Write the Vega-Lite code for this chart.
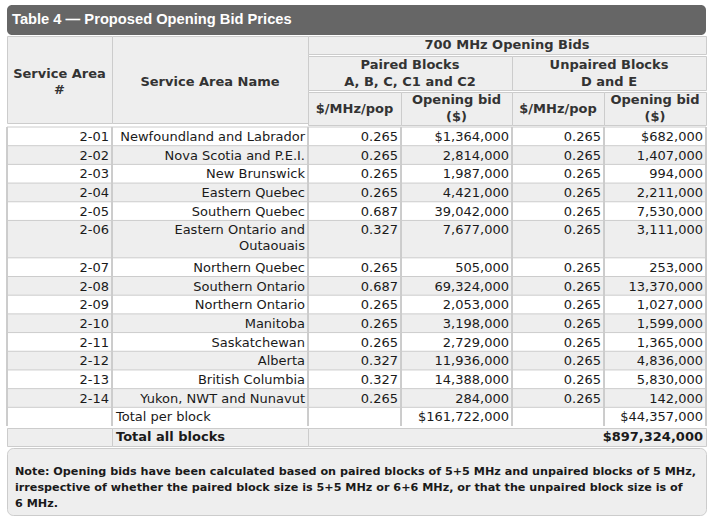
{
  "$schema": "https://vega.github.io/schema/vega-lite/v6.json",
  "padding": {"left": 6, "top": 5, "right": 4, "bottom": 4},
  "background": "white",
  "config": {
    "concat": {"spacing": 0},
    "view": {"stroke": null},
    "text": {"font": "DejaVu Sans", "fontSize": 13, "fill": "#1a1a1a"}
  },
  "datasets": {
    "rows": [
      {"sa": "2-01", "name": "Newfoundland and Labrador", "p_rate": 0.265, "p_bid": 1364000, "u_rate": 0.265, "u_bid": 682000},
      {"sa": "2-02", "name": "Nova Scotia and P.E.I.", "p_rate": 0.265, "p_bid": 2814000, "u_rate": 0.265, "u_bid": 1407000},
      {"sa": "2-03", "name": "New Brunswick", "p_rate": 0.265, "p_bid": 1987000, "u_rate": 0.265, "u_bid": 994000},
      {"sa": "2-04", "name": "Eastern Quebec", "p_rate": 0.265, "p_bid": 4421000, "u_rate": 0.265, "u_bid": 2211000},
      {"sa": "2-05", "name": "Southern Quebec", "p_rate": 0.687, "p_bid": 39042000, "u_rate": 0.265, "u_bid": 7530000},
      {"sa": "2-06", "name": "Eastern Ontario and\nOutaouais", "p_rate": 0.327, "p_bid": 7677000, "u_rate": 0.265, "u_bid": 3111000},
      {"sa": "2-07", "name": "Northern Quebec", "p_rate": 0.265, "p_bid": 505000, "u_rate": 0.265, "u_bid": 253000},
      {"sa": "2-08", "name": "Southern Ontario", "p_rate": 0.687, "p_bid": 69324000, "u_rate": 0.265, "u_bid": 13370000},
      {"sa": "2-09", "name": "Northern Ontario", "p_rate": 0.265, "p_bid": 2053000, "u_rate": 0.265, "u_bid": 1027000},
      {"sa": "2-10", "name": "Manitoba", "p_rate": 0.265, "p_bid": 3198000, "u_rate": 0.265, "u_bid": 1599000},
      {"sa": "2-11", "name": "Saskatchewan", "p_rate": 0.265, "p_bid": 2729000, "u_rate": 0.265, "u_bid": 1365000},
      {"sa": "2-12", "name": "Alberta", "p_rate": 0.327, "p_bid": 11936000, "u_rate": 0.265, "u_bid": 4836000},
      {"sa": "2-13", "name": "British Columbia", "p_rate": 0.327, "p_bid": 14388000, "u_rate": 0.265, "u_bid": 5830000},
      {"sa": "2-14", "name": "Yukon, NWT and Nunavut", "p_rate": 0.265, "p_bid": 284000, "u_rate": 0.265, "u_bid": 142000},
      {"sa": "", "name": "Total per block", "p_rate": null, "p_bid": 161722000, "u_rate": null, "u_bid": 44357000}
    ],
    "grand": [{"label": "Total all blocks", "total": 897324000}],
    "headers": [
      {"cell": "A", "label": "Service Area\n#"},
      {"cell": "B", "label": "Service Area Name"},
      {"cell": "700", "label": "700 MHz Opening Bids"},
      {"cell": "P", "label": "Paired Blocks\nA, B, C, C1 and C2"},
      {"cell": "U", "label": "Unpaired Blocks\nD and E"},
      {"cell": "C", "label": "$/MHz/pop"},
      {"cell": "D", "label": "Opening bid\n($)"},
      {"cell": "E", "label": "$/MHz/pop"},
      {"cell": "F", "label": "Opening bid\n($)"}
    ],
    "texts": [
      {"kind": "title", "t": "Table 4 — Proposed Opening Bid Prices"},
      {"kind": "note", "t": "Note: Opening bids have been calculated based on paired blocks of 5+5 MHz and unpaired blocks of 5 MHz,\nirrespective of whether the paired block size is 5+5 MHz or 6+6 MHz, or that the unpaired block size is of\n6 MHz."}
    ]
  },
  "spacing": 0,
  "vconcat": [
    {
      "width": 699, "height": 30,
      "view": {"fill": "#666666", "stroke": null, "cornerRadius": 5},
      "data": {"name": "texts"},
      "transform": [{"filter": "datum.kind == 'title'"}],
      "layer": [
        {"mark": {"type": "rule", "opacity": 0}, "encoding": {"x": {"datum": "c", "type": "nominal", "scale": {"domain": ["c"], "paddingInner": 0, "paddingOuter": 0}, "axis": null, "bandPosition": 0}}},
        {"mark": {"type": "text", "align": "left", "baseline": "middle", "dx": 5, "font": "Liberation Sans", "fontWeight": "bold", "fontSize": 14.7, "fill": "#ffffff"},
         "encoding": {"x": {"datum": "c", "type": "nominal", "bandPosition": 0}, "text": {"field": "t"}}}
      ]
    },
    {
      "spacing": 0, "bounds": "flush",
      "hconcat": [
        {
          "width": 105, "height": 87,
          "view": {"fill": "#eeeeee", "stroke": "#cccccc"},
          "data": {"name": "headers"},
          "transform": [{"filter": "datum.cell == 'A'"}],
          "mark": {"type": "text", "fontWeight": "bold", "lineBreak": "\n", "lineHeight": 16, "dy": -6, "fill": "#333333"},
          "encoding": {"text": {"field": "label"}}
        },
        {
          "width": 196, "height": 87,
          "view": {"fill": "#eeeeee", "stroke": "#cccccc"},
          "data": {"name": "headers"},
          "transform": [{"filter": "datum.cell == 'B'"}],
          "mark": {"type": "text", "fontWeight": "bold", "dy": 2, "fill": "#333333"},
          "encoding": {"text": {"field": "label"}}
        },
        {
          "spacing": 0,
          "vconcat": [
            {
              "width": 398, "height": 18,
              "view": {"fill": "#eeeeee", "stroke": "#cccccc"},
              "data": {"name": "headers"},
              "transform": [{"filter": "datum.cell == '700'"}],
              "mark": {"type": "text", "fontWeight": "bold", "fill": "#333333"},
              "encoding": {"text": {"field": "label"}}
            },
            {
              "spacing": 0, "bounds": "flush",
              "hconcat": [
                {
                  "width": 204, "height": 34,
                  "view": {"fill": "#eeeeee", "stroke": "#cccccc"},
                  "data": {"name": "headers"},
                  "transform": [{"filter": "datum.cell == 'P'"}],
                  "mark": {"type": "text", "fontWeight": "bold", "lineBreak": "\n", "lineHeight": 17, "dy": -8.5, "fill": "#333333"},
                  "encoding": {"text": {"field": "label"}}
                },
                {
                  "width": 194, "height": 34,
                  "view": {"fill": "#eeeeee", "stroke": "#cccccc"},
                  "data": {"name": "headers"},
                  "transform": [{"filter": "datum.cell == 'U'"}],
                  "mark": {"type": "text", "fontWeight": "bold", "lineBreak": "\n", "lineHeight": 17, "dy": -8.5, "fill": "#333333"},
                  "encoding": {"text": {"field": "label"}}
                }
              ]
            },
            {
              "spacing": 0, "bounds": "flush",
              "hconcat": [
                {
                  "width": 93, "height": 33,
                  "view": {"fill": "#eeeeee", "stroke": "#cccccc"},
                  "data": {"name": "headers"},
                  "transform": [{"filter": "datum.cell == 'C'"}],
                  "mark": {"type": "text", "fontWeight": "bold", "fill": "#333333"},
                  "encoding": {"text": {"field": "label"}}
                },
                {
                  "width": 111, "height": 33,
                  "view": {"fill": "#eeeeee", "stroke": "#cccccc"},
                  "data": {"name": "headers"},
                  "transform": [{"filter": "datum.cell == 'D'"}],
                  "mark": {"type": "text", "fontWeight": "bold", "lineBreak": "\n", "lineHeight": 17, "dy": -8.5, "fill": "#333333"},
                  "encoding": {"text": {"field": "label"}}
                },
                {
                  "width": 92, "height": 33,
                  "view": {"fill": "#eeeeee", "stroke": "#cccccc"},
                  "data": {"name": "headers"},
                  "transform": [{"filter": "datum.cell == 'E'"}],
                  "mark": {"type": "text", "fontWeight": "bold", "fill": "#333333"},
                  "encoding": {"text": {"field": "label"}}
                },
                {
                  "width": 102, "height": 33,
                  "view": {"fill": "#eeeeee", "stroke": "#cccccc"},
                  "data": {"name": "headers"},
                  "transform": [{"filter": "datum.cell == 'F'"}],
                  "mark": {"type": "text", "fontWeight": "bold", "lineBreak": "\n", "lineHeight": 17, "dy": -8.5, "fill": "#333333"},
                  "encoding": {"text": {"field": "label"}}
                }
              ]
            }
          ]
        }
      ]
    },
    {
      "spacing": 0, "bounds": "flush",
      "hconcat": [
        {
          "width": 105, "height": 299,
          "view": {"fill": "#eeeeee", "stroke": null},
          "data": {"name": "rows"},
          "transform": [{"window": [{"op": "row_number", "as": "i"}]}],
          "layer": [
            {"transform": [{"filter": "datum.i % 2 == 1"}], "mark": {"type": "rect", "fill": "#ffffff"},
             "encoding": {
               "x": {"datum": "c", "type": "nominal", "scale": {"domain": ["c"], "paddingInner": 0, "paddingOuter": 0}, "axis": null},
               "y": {"field": "sa", "type": "nominal", "sort": null, "scale": {"domain": ["2-01","2-02","2-03","2-04","2-05","2-06","2-06+","2-07","2-08","2-09","2-10","2-11","2-12","2-13","2-14",""], "paddingInner": 0, "paddingOuter": 0}, "axis": null}}},
            {"mark": {"type": "rule", "stroke": "#cccccc"}, "encoding": {"y": {"field": "sa", "type": "nominal", "bandPosition": 0}}},
            {"mark": {"type": "rule", "stroke": "#cccccc"}, "encoding": {"x": {"datum": "c", "type": "nominal", "bandPosition": 0}}},
            {"mark": {"type": "text", "align": "right", "baseline": "top", "dx": -3, "dy": 4},
             "encoding": {"x": {"datum": "c", "type": "nominal", "bandPosition": 1}, "y": {"field": "sa", "type": "nominal", "bandPosition": 0}, "text": {"field": "sa"}}}
          ]
        },
        {
          "width": 196, "height": 299,
          "view": {"fill": "#eeeeee", "stroke": null},
          "data": {"name": "rows"},
          "transform": [{"window": [{"op": "row_number", "as": "i"}]}],
          "layer": [
            {"transform": [{"filter": "datum.i % 2 == 1"}], "mark": {"type": "rect", "fill": "#ffffff"},
             "encoding": {
               "x": {"datum": "c", "type": "nominal", "scale": {"domain": ["c"], "paddingInner": 0, "paddingOuter": 0}, "axis": null},
               "y": {"field": "sa", "type": "nominal", "sort": null, "scale": {"domain": ["2-01","2-02","2-03","2-04","2-05","2-06","2-06+","2-07","2-08","2-09","2-10","2-11","2-12","2-13","2-14",""], "paddingInner": 0, "paddingOuter": 0}, "axis": null}}},
            {"mark": {"type": "rule", "stroke": "#cccccc"}, "encoding": {"y": {"field": "sa", "type": "nominal", "bandPosition": 0}}},
            {"mark": {"type": "rule", "stroke": "#cccccc"}, "encoding": {"x": {"datum": "c", "type": "nominal", "bandPosition": 0}}},
            {"transform": [{"filter": "datum.sa != ''"}],
             "mark": {"type": "text", "align": "right", "baseline": "top", "dx": -3, "dy": 4, "lineBreak": "\n", "lineHeight": 16},
             "encoding": {"x": {"datum": "c", "type": "nominal", "bandPosition": 1}, "y": {"field": "sa", "type": "nominal", "bandPosition": 0}, "text": {"field": "name"}}},
            {"transform": [{"filter": "datum.sa == ''"}],
             "mark": {"type": "text", "align": "left", "baseline": "top", "dx": 4, "dy": 4},
             "encoding": {"x": {"datum": "c", "type": "nominal", "bandPosition": 0}, "y": {"field": "sa", "type": "nominal", "bandPosition": 0}, "text": {"field": "name"}}}
          ]
        },
        {
          "width": 93, "height": 299,
          "view": {"fill": "#eeeeee", "stroke": null},
          "data": {"name": "rows"},
          "transform": [{"window": [{"op": "row_number", "as": "i"}]}],
          "layer": [
            {"transform": [{"filter": "datum.i % 2 == 1"}], "mark": {"type": "rect", "fill": "#ffffff"},
             "encoding": {
               "x": {"datum": "c", "type": "nominal", "scale": {"domain": ["c"], "paddingInner": 0, "paddingOuter": 0}, "axis": null},
               "y": {"field": "sa", "type": "nominal", "sort": null, "scale": {"domain": ["2-01","2-02","2-03","2-04","2-05","2-06","2-06+","2-07","2-08","2-09","2-10","2-11","2-12","2-13","2-14",""], "paddingInner": 0, "paddingOuter": 0}, "axis": null}}},
            {"mark": {"type": "rule", "stroke": "#cccccc"}, "encoding": {"y": {"field": "sa", "type": "nominal", "bandPosition": 0}}},
            {"mark": {"type": "rule", "stroke": "#cccccc"}, "encoding": {"x": {"datum": "c", "type": "nominal", "bandPosition": 0}}},
            {"transform": [{"filter": "datum.p_rate != null"}],
             "mark": {"type": "text", "align": "right", "baseline": "top", "dx": -3, "dy": 4},
             "encoding": {"x": {"datum": "c", "type": "nominal", "bandPosition": 1}, "y": {"field": "sa", "type": "nominal", "bandPosition": 0}, "text": {"field": "p_rate", "type": "quantitative", "format": ".3f"}}}
          ]
        },
        {
          "width": 111, "height": 299,
          "view": {"fill": "#eeeeee", "stroke": null},
          "data": {"name": "rows"},
          "transform": [{"window": [{"op": "row_number", "as": "i"}]}],
          "layer": [
            {"transform": [{"filter": "datum.i % 2 == 1"}], "mark": {"type": "rect", "fill": "#ffffff"},
             "encoding": {
               "x": {"datum": "c", "type": "nominal", "scale": {"domain": ["c"], "paddingInner": 0, "paddingOuter": 0}, "axis": null},
               "y": {"field": "sa", "type": "nominal", "sort": null, "scale": {"domain": ["2-01","2-02","2-03","2-04","2-05","2-06","2-06+","2-07","2-08","2-09","2-10","2-11","2-12","2-13","2-14",""], "paddingInner": 0, "paddingOuter": 0}, "axis": null}}},
            {"mark": {"type": "rule", "stroke": "#cccccc"}, "encoding": {"y": {"field": "sa", "type": "nominal", "bandPosition": 0}}},
            {"mark": {"type": "rule", "stroke": "#cccccc"}, "encoding": {"x": {"datum": "c", "type": "nominal", "bandPosition": 0}}},
            {"mark": {"type": "text", "align": "right", "baseline": "top", "dx": -3, "dy": 4},
             "encoding": {"x": {"datum": "c", "type": "nominal", "bandPosition": 1}, "y": {"field": "sa", "type": "nominal", "bandPosition": 0},
               "text": {"condition": {"test": "datum.sa == '2-01' || datum.sa == ''", "field": "p_bid", "type": "quantitative", "format": "$,.0f"}, "field": "p_bid", "type": "quantitative", "format": ",.0f"}}}
          ]
        },
        {
          "width": 92, "height": 299,
          "view": {"fill": "#eeeeee", "stroke": null},
          "data": {"name": "rows"},
          "transform": [{"window": [{"op": "row_number", "as": "i"}]}],
          "layer": [
            {"transform": [{"filter": "datum.i % 2 == 1"}], "mark": {"type": "rect", "fill": "#ffffff"},
             "encoding": {
               "x": {"datum": "c", "type": "nominal", "scale": {"domain": ["c"], "paddingInner": 0, "paddingOuter": 0}, "axis": null},
               "y": {"field": "sa", "type": "nominal", "sort": null, "scale": {"domain": ["2-01","2-02","2-03","2-04","2-05","2-06","2-06+","2-07","2-08","2-09","2-10","2-11","2-12","2-13","2-14",""], "paddingInner": 0, "paddingOuter": 0}, "axis": null}}},
            {"mark": {"type": "rule", "stroke": "#cccccc"}, "encoding": {"y": {"field": "sa", "type": "nominal", "bandPosition": 0}}},
            {"mark": {"type": "rule", "stroke": "#cccccc"}, "encoding": {"x": {"datum": "c", "type": "nominal", "bandPosition": 0}}},
            {"transform": [{"filter": "datum.u_rate != null"}],
             "mark": {"type": "text", "align": "right", "baseline": "top", "dx": -3, "dy": 4},
             "encoding": {"x": {"datum": "c", "type": "nominal", "bandPosition": 1}, "y": {"field": "sa", "type": "nominal", "bandPosition": 0}, "text": {"field": "u_rate", "type": "quantitative", "format": ".3f"}}}
          ]
        },
        {
          "width": 102, "height": 299,
          "view": {"fill": "#eeeeee", "stroke": null},
          "data": {"name": "rows"},
          "transform": [{"window": [{"op": "row_number", "as": "i"}]}],
          "layer": [
            {"transform": [{"filter": "datum.i % 2 == 1"}], "mark": {"type": "rect", "fill": "#ffffff"},
             "encoding": {
               "x": {"datum": "c", "type": "nominal", "scale": {"domain": ["c"], "paddingInner": 0, "paddingOuter": 0}, "axis": null},
               "y": {"field": "sa", "type": "nominal", "sort": null, "scale": {"domain": ["2-01","2-02","2-03","2-04","2-05","2-06","2-06+","2-07","2-08","2-09","2-10","2-11","2-12","2-13","2-14",""], "paddingInner": 0, "paddingOuter": 0}, "axis": null}}},
            {"mark": {"type": "rule", "stroke": "#cccccc"}, "encoding": {"y": {"field": "sa", "type": "nominal", "bandPosition": 0}}},
            {"mark": {"type": "rule", "stroke": "#cccccc"}, "encoding": {"x": {"datum": "c", "type": "nominal", "bandPosition": 0}}},
            {"mark": {"type": "rule", "stroke": "#cccccc"}, "encoding": {"x": {"datum": "c", "type": "nominal", "bandPosition": 1}}},
            {"mark": {"type": "text", "align": "right", "baseline": "top", "dx": -3, "dy": 4},
             "encoding": {"x": {"datum": "c", "type": "nominal", "bandPosition": 1}, "y": {"field": "sa", "type": "nominal", "bandPosition": 0},
               "text": {"condition": {"test": "datum.sa == '2-01' || datum.sa == ''", "field": "u_bid", "type": "quantitative", "format": "$,.0f"}, "field": "u_bid", "type": "quantitative", "format": ",.0f"}}}
          ]
        }
      ]
    },
    {
      "spacing": 0, "bounds": "flush",
      "hconcat": [
        {
          "width": 105, "height": 18,
          "view": {"fill": "#eeeeee", "stroke": "#cccccc"},
          "data": {"name": "grand"},
          "mark": {"type": "text"},
          "encoding": {"text": {"value": ""}}
        },
        {
          "width": 196, "height": 18,
          "view": {"fill": "#eeeeee", "stroke": "#cccccc"},
          "data": {"name": "grand"},
          "layer": [
            {"mark": {"type": "rule", "opacity": 0}, "encoding": {"x": {"datum": "c", "type": "nominal", "scale": {"domain": ["c"], "paddingInner": 0, "paddingOuter": 0}, "axis": null, "bandPosition": 0}}},
            {"mark": {"type": "text", "align": "left", "baseline": "middle", "dx": 4, "fontWeight": "bold"},
             "encoding": {"x": {"datum": "c", "type": "nominal", "bandPosition": 0}, "text": {"field": "label"}}}
          ]
        },
        {
          "width": 398, "height": 18,
          "view": {"fill": "#eeeeee", "stroke": "#cccccc"},
          "data": {"name": "grand"},
          "layer": [
            {"mark": {"type": "rule", "opacity": 0}, "encoding": {"x": {"datum": "c", "type": "nominal", "scale": {"domain": ["c"], "paddingInner": 0, "paddingOuter": 0}, "axis": null, "bandPosition": 1}}},
            {"mark": {"type": "text", "align": "right", "baseline": "middle", "dx": -3, "fontWeight": "bold"},
             "encoding": {"x": {"datum": "c", "type": "nominal", "bandPosition": 1}, "text": {"field": "total", "type": "quantitative", "format": "$,.0f"}}}
          ]
        }
      ]
    },
    {
      "width": 699, "height": 67,
      "view": {"fill": "#eeeeee", "stroke": "#cccccc", "cornerRadius": 6},
      "data": {"name": "texts"},
      "transform": [{"filter": "datum.kind == 'note'"}],
      "layer": [
        {"mark": {"type": "rule", "opacity": 0}, "encoding": {
          "x": {"datum": "c", "type": "nominal", "scale": {"domain": ["c"], "paddingInner": 0, "paddingOuter": 0}, "axis": null, "bandPosition": 0},
          "y": {"datum": "c", "type": "nominal", "scale": {"domain": ["c"], "paddingInner": 0, "paddingOuter": 0}, "axis": null, "bandPosition": 0}}},
        {"mark": {"type": "text", "align": "left", "baseline": "top", "dx": 8, "dy": 18, "fontSize": 11.2, "fontWeight": "bold", "lineBreak": "\n", "lineHeight": 16},
         "encoding": {
           "x": {"datum": "c", "type": "nominal", "bandPosition": 0},
           "y": {"datum": "c", "type": "nominal", "bandPosition": 0},
           "text": {"field": "t"}}}
      ]
    }
  ]
}
